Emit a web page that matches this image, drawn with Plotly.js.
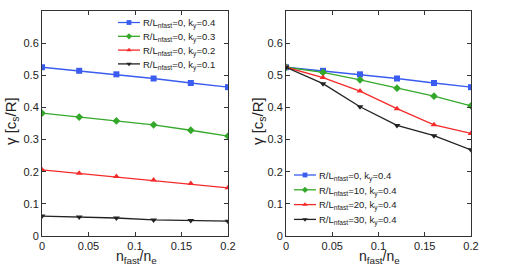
<!DOCTYPE html>
<html>
<head>
<meta charset="utf-8">
<script src="https://cdn.plot.ly/plotly-3.0.1.min.js"></script>
<style>html,body{margin:0;padding:0;background:#fff;}#chart{width:526px;height:267px;}</style>
</head>
<body>
<div id="chart"></div>
<script>
// x values: n_fast / n_e
const nFast = [0, 0.04, 0.08, 0.12, 0.16, 0.2];

// Left panel: R/L_nfast = 0, varying k_y
const leftKy04 = [0.525, 0.514, 0.503, 0.490, 0.476, 0.463];
const leftKy03 = [0.382, 0.370, 0.358, 0.346, 0.329, 0.311];
const leftKy02 = [0.206, 0.195, 0.185, 0.174, 0.163, 0.150];
const leftKy01 = [0.062, 0.059, 0.056, 0.050, 0.048, 0.046];
const leftNames = [
  "R/L<sub>nfast</sub>=0, k<sub>y</sub>=0.4",
  "R/L<sub>nfast</sub>=0, k<sub>y</sub>=0.3",
  "R/L<sub>nfast</sub>=0, k<sub>y</sub>=0.2",
  "R/L<sub>nfast</sub>=0, k<sub>y</sub>=0.1"
];

// Right panel: k_y = 0.4, varying R/L_nfast
const rightL0  = [0.525, 0.514, 0.503, 0.490, 0.476, 0.463];
const rightL10 = [0.525, 0.509, 0.486, 0.460, 0.435, 0.405];
const rightL20 = [0.525, 0.493, 0.451, 0.396, 0.346, 0.319];
const rightL30 = [0.525, 0.474, 0.402, 0.344, 0.312, 0.268];
const rightNames = [
  "R/L<sub>nfast</sub>=0, k<sub>y</sub>=0.4",
  "R/L<sub>nfast</sub>=10, k<sub>y</sub>=0.4",
  "R/L<sub>nfast</sub>=20, k<sub>y</sub>=0.4",
  "R/L<sub>nfast</sub>=30, k<sub>y</sub>=0.4"
];

const xTickVals = [0, 0.05, 0.1, 0.15, 0.2];
const xTickText = ["0", "0.05", "0.1", "0.15", "0.2"];
const yTickVals = [0, 0.1, 0.2, 0.3, 0.4, 0.5, 0.6];
const yTickText = ["0", "0.1", "0.2", "0.3", "0.4", "0.5", "0.6"];

const colors = ["#3a5cf0", "#34a82a", "#f52a2a", "#222222"];
const symbols = ["square", "diamond", "triangle-up", "triangle-down"];

function mk(y, i, name, xa, ya, leg) {
  return {
    x: nFast, y: y, name: name, type: "scatter", mode: "lines+markers",
    xaxis: xa, yaxis: ya, legend: leg,
    line: {color: colors[i], width: 1.3},
    marker: {symbol: symbols[i], size: 6, color: colors[i]}
  };
}

const leftSeries = [leftKy04, leftKy03, leftKy02, leftKy01];
const rightSeries = [rightL0, rightL10, rightL20, rightL30];
const data = [];
leftSeries.forEach((s, i) => data.push(mk(s, i, leftNames[i], "x", "y", "legend")));
rightSeries.forEach((s, i) => data.push(mk(s, i, rightNames[i], "x2", "y2", "legend2")));

const W = 526, H = 267;
const FAM = "Liberation Sans, Arial, sans-serif";
const font = {family: FAM, size: 11, color: "#222"};
const xTitleFont = {family: FAM, size: 14, color: "#222"};
const yTitleFont = {family: FAM, size: 15, color: "#222"};
function xax(domain) {
  return {domain: domain, range: [0, 0.2], tickvals: xTickVals, ticktext: xTickText,
    ticks: "inside", ticklen: 4, tickcolor: "#333", showline: true, linecolor: "#333",
    linewidth: 1, mirror: "ticks", showgrid: false, zeroline: false, fixedrange: true,
    tickfont: font};
}
function yax(domain, anchor) {
  return {domain: domain, range: [0, 0.7], tickvals: yTickVals, ticktext: yTickText,
    ticks: "inside", ticklen: 4, tickcolor: "#333", showline: true, linecolor: "#333",
    linewidth: 1, mirror: "ticks", showgrid: false, zeroline: false, fixedrange: true,
    anchor: anchor, tickfont: font};
}
const yDom = [1 - 236 / H, 1 - 11 / H];
const legFont = {family: FAM, size: 9.5, color: "#222"};
const layout = {
  width: W, height: H,
  margin: {l: 0, r: 0, t: 0, b: 0},
  paper_bgcolor: "#fff", plot_bgcolor: "#fff",
  font: font,
  xaxis: Object.assign(xax([42 / W, 228 / W]), {anchor: "y"}),
  yaxis: yax(yDom, "x"),
  xaxis2: Object.assign(xax([286 / W, 471 / W]), {anchor: "y2"}),
  yaxis2: yax(yDom, "x2"),
  legend: {x: 103 / W, y: 1 - 12 / H, xanchor: "left", yanchor: "top",
    bgcolor: "rgba(0,0,0,0)", font: legFont, itemwidth: 30, tracegroupgap: 0},
  legend2: {x: 279 / W, y: 1 - 164 / H, xanchor: "left", yanchor: "top",
    bgcolor: "rgba(0,0,0,0)", font: legFont, itemwidth: 30, tracegroupgap: 0},
  annotations: [
    {text: "γ [c<sub>s</sub>/R]", x: 11 / W, y: 1 - 121 / H, xref: "paper", yref: "paper",
      xanchor: "center", yanchor: "middle",
      textangle: -90, showarrow: false, font: yTitleFont},
    {text: "γ [c<sub>s</sub>/R]", x: 258 / W, y: 1 - 121 / H, xref: "paper", yref: "paper",
      xanchor: "center", yanchor: "middle",
      textangle: -90, showarrow: false, font: yTitleFont},
    {text: "n<sub>fast</sub>/n<sub>e</sub>", x: 136 / W, y: 1 - 257 / H, xref: "paper", yref: "paper",
      xanchor: "center", yanchor: "middle", showarrow: false, font: xTitleFont},
    {text: "n<sub>fast</sub>/n<sub>e</sub>", x: 379 / W, y: 1 - 257 / H, xref: "paper", yref: "paper",
      xanchor: "center", yanchor: "middle", showarrow: false, font: xTitleFont}
  ],
  showlegend: true
};

// compact legend spacing (target item centers in pixels)
const legendTargets = {
  legend: {x: 103, y0: 22.5, gap: 13.8},
  legend2: {x: 279, y0: 175, gap: 14.8}
};
function tightenLegends(gd) {
  Object.keys(legendTargets).forEach(function (cls) {
    const t = legendTargets[cls];
    const g = gd.querySelector("g." + cls);
    if (!g) return;
    g.setAttribute("transform", "translate(" + t.x + "," + t.y0 + ")");
    const clip = g.querySelector("g.scrollbox");
    if (clip) { clip.removeAttribute("clip-path"); clip.setAttribute("transform", "translate(0,0)"); }
    g.querySelectorAll("g.groups").forEach(function (gr) { gr.setAttribute("transform", "translate(0,0)"); });
    g.querySelectorAll("g.traces").forEach(function (it, i) {
      it.setAttribute("transform", "translate(0," + (i * t.gap) + ")");
      it.querySelectorAll("g.legendlines path").forEach(function (p) {
        p.setAttribute("d", "M15,0h22");
      });
      it.querySelectorAll("g.legendsymbols g.legendpoints path").forEach(function (p) {
        p.setAttribute("transform", "translate(26,0) scale(0.8)");
      });
    });
  });
}
const gd = document.getElementById("chart");
Plotly.newPlot(gd, data, layout, {staticPlot: true, displayModeBar: false}).then(function () {
  tightenLegends(gd);
});
</script>
</body>
</html>
